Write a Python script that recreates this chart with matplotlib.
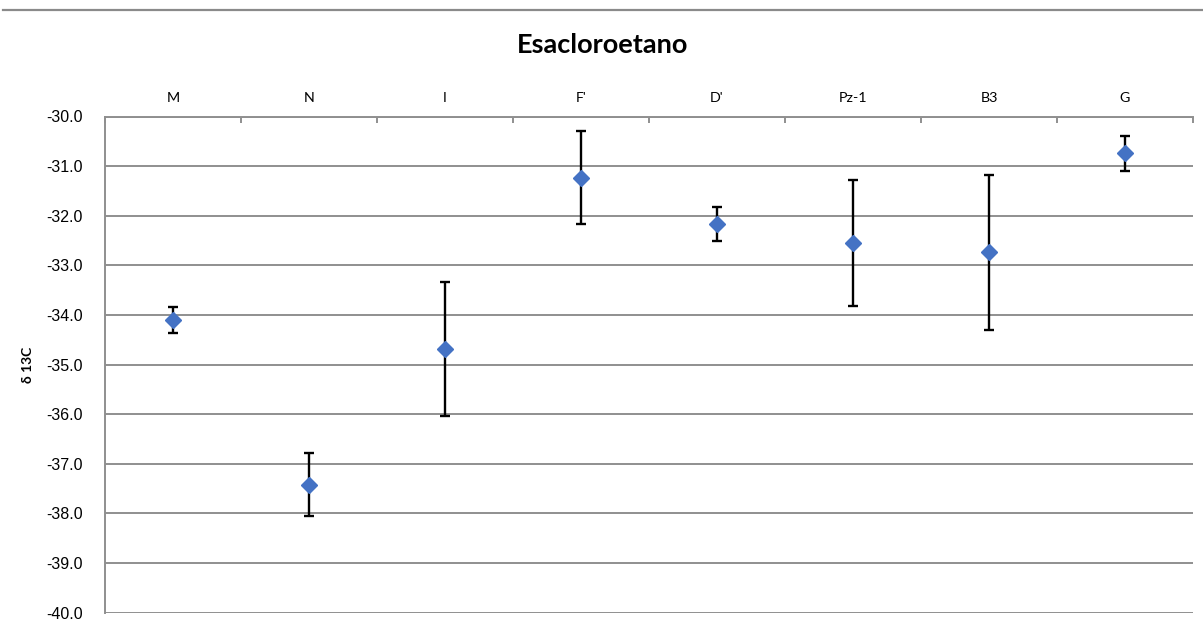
import matplotlib
matplotlib.use("Agg")
import matplotlib.pyplot as plt
from matplotlib.lines import Line2D
import numpy as np

# Sample sites and δ13C of hexachloroethane (mean ± error)
sites = ["M", "N", "I", "F'", "D'", "Pz-1", "B3", "G"]
d13c_mean = [-34.10, -37.42, -34.69, -31.23, -32.16, -32.55, -32.74, -30.74]
d13c_err = [0.27, 0.63, 1.35, 0.93, 0.34, 1.27, 1.56, 0.35]
y_ticks = [-30.0, -31.0, -32.0, -33.0, -34.0, -35.0, -36.0, -37.0, -38.0, -39.0, -40.0]

W, H, DPI = 1203, 625, 100
fig = plt.figure(figsize=(W / DPI, H / DPI), dpi=DPI)
fig.patch.set_facecolor("white")

grid_gray = "#8f8f8f"

ax = fig.add_axes([105 / W, 1 - 612.7 / H, (1193 - 105) / W, (612.7 - 116.5) / H])

x = np.arange(len(sites))
ax.errorbar(x, d13c_mean, yerr=d13c_err, fmt="none", ecolor="black",
            elinewidth=1.7, capsize=3.3, capthick=1.7, zorder=3)
ax.plot(x, d13c_mean, linestyle="none", marker="D", markersize=8.6,
        color="#4472C4", markeredgecolor="#4472C4", zorder=4)

ax.set_xlim(-0.5, len(sites) - 0.5)
ax.set_ylim(-40, -30)

# horizontal gridlines
ax.set_yticks(y_ticks)
ax.set_yticklabels([f"{v:.1f}" for v in y_ticks], family=["Liberation Sans", "DejaVu Sans"],
                   fontsize=11.5)
ax.yaxis.grid(True, color=grid_gray, linewidth=1.4)
ax.tick_params(axis="y", length=0, pad=16)
ax.set_axisbelow(True)

# category axis drawn along the top
ax.xaxis.tick_top()
ax.set_xticks(x)
ax.set_xticklabels(sites, family=["Lato", "DejaVu Sans"], fontsize=10.3)
ax.tick_params(axis="x", which="major", length=0, pad=9)
ax.set_xticks(np.arange(-0.5, len(sites) + 0.5, 1), minor=True)
ax.tick_params(axis="x", which="minor", direction="in", length=4, width=1.4,
               color=grid_gray, top=True, bottom=False)

for side in ["right", "bottom"]:
    ax.spines[side].set_visible(False)
for side in ["left", "top"]:
    ax.spines[side].set_color(grid_gray)
    ax.spines[side].set_linewidth(1.4)

ax.set_ylabel("δ 13C", family=["Lato", "DejaVu Sans"], fontsize=10, fontweight="bold")
ax.yaxis.set_label_coords(34 / 1088 - 105 / 1088, 0.5)

fig.text(603 / W, 1 - 45 / H, "Esacloroetano", ha="center", va="center",
         family=["Lato", "DejaVu Sans"], fontsize=19.5, fontweight="bold")

# thin rule along the top edge
fig.add_artist(Line2D([3 / W, 1.0], [1 - 10 / H, 1 - 10 / H], transform=fig.transFigure,
                      color="#8a8a8a", linewidth=1.6))

fig.savefig("out.png", dpi=DPI, facecolor="white")
